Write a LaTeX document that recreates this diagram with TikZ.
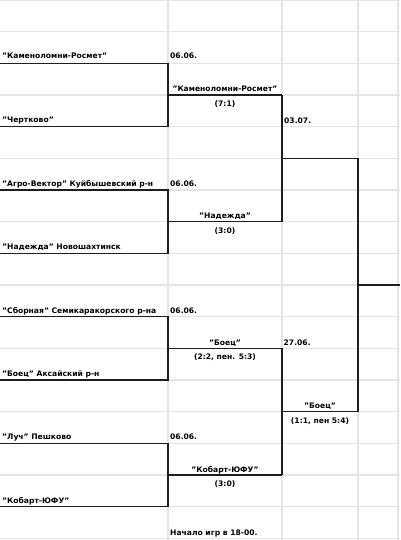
\documentclass[tikz,border=0pt]{standalone}
\usepackage{fontspec}
\setmainfont{DejaVu Sans}
\usepackage{tikz}
\usetikzlibrary{positioning,calc}
\definecolor{cellgray}{HTML}{E4E4E4}
\definecolor{ink}{HTML}{1E1E1E}

\begin{document}
\begin{tikzpicture}[x=1pt, y=-1pt]
    \tikzset{
        cellline/.style={draw=cellgray, line width=1.2pt},
        bracket/.style={draw=ink, line width=1.3pt},
        team/.style={anchor=base west, inner sep=0pt, font=\fontsize{7.6}{9}\selectfont\bfseries},
        date/.style={anchor=base west, inner sep=0pt, font=\fontsize{7.6}{9}\selectfont\bfseries},
        winner/.style={anchor=base, inner sep=0pt, font=\fontsize{7.6}{9}\selectfont\bfseries},
        score/.style={anchor=base, inner sep=0pt, font=\fontsize{7.6}{9}\selectfont\bfseries}
    }
    \useasboundingbox (0,0) rectangle (400,540);

    % Spreadsheet cells
    \foreach \i in {0,...,17}
        \path[cellline] (0,\i*31.67) -- (400,\i*31.67);
    \foreach \x in {168,282,358,398}
        \path[cellline] (\x,0) -- (\x,540);

    % Corner points of the bracket
    \foreach \k in {1,...,8}
        \coordinate (p\k) at (0,{\k*63.33});
    \foreach \k in {1,...,4} {
        \coordinate (q\k) at (168,{95+(\k-1)*126.67});
        \coordinate (r\k) at (282,{95+(\k-1)*126.67});
    }
    \coordinate (s1) at (282,158.33);
    \coordinate (s2) at (282,411.67);
    \coordinate (u1) at (358,158.33);
    \coordinate (u2) at (358,411.67);
    \coordinate (v) at (358,285);
    \coordinate (fin) at (400,285);

    % Round 1 (06.06.)
    \node[team] (t1) at (2,59) {"Каменоломни-Росмет"};
    \node[team] (t2) at (2,122.5) {"Чертково"};
    \node[team] (t3) at (2,186) {"Агро-Вектор" Куйбышевский р-н};
    \node[team] (t4) at (2,249.5) {"Надежда" Новошахтинск};
    \node[team] (t5) at (2,313) {"Сборная" Семикаракорского р-на};
    \node[team] (t6) at (2,376) {"Боец" Аксайский р-н};
    \node[team] (t7) at (2,439.5) {"Луч" Пешково};
    \node[team] (t8) at (2,503) {"Кобарт-ЮФУ"};

    \node[date] (d1) at (170,59) {06.06.};
    \node[date] (d2) at (170,186) {06.06.};
    \node[date] (d3) at (170,313) {06.06.};
    \node[date] (d4) at (170,439.5) {06.06.};

    \foreach \k [evaluate=\k as \j using int(2*\k-1), evaluate=\k as \m using int(2*\k)] in {1,...,4} {
        \path[bracket] (p\j) -| (q\k) |- (p\m);
        \path[bracket] (q\k) -- (r\k);
    }

    % Round 2
    \node[winner] (w1) at (225,92) {"Каменоломни-Росмет"};
    \node[score] (c1) at ($(w1.base)+(0,14.5)$) {(7:1)};
    \node[winner] (w2) at (225,218.5) {"Надежда"};
    \node[score] (c2) at ($(w2.base)+(0,14.5)$) {(3:0)};
    \node[winner] (w3) at (225,345) {"Боец"};
    \node[score] (c3) at ($(w3.base)+(0,14.5)$) {(2:2, пен. 5:3)};
    \node[winner] (w4) at (225,472) {"Кобарт-ЮФУ"};
    \node[score] (c4) at ($(w4.base)+(0,14.5)$) {(3:0)};

    \node[date] (d5) at (284,123.3) {03.07.};
    \node[date] (d6) at (283.5,345) {27.06.};

    \path[bracket] (r1) -- (r2);
    \path[bracket] (r3) -- (r4);
    \path[bracket] (s1) -- (u1);
    \path[bracket] (s2) -- (u2);

    % Round 3
    \node[winner] (w6) at (320,408.5) {"Боец"};
    \node[score] (c6) at ($(w6.base)+(0,14.5)$) {(1:1, пен 5:4)};

    \path[bracket] (u1) -- (u2);
    \path[bracket] (v) -- (fin);

    % Footnote
    \node[date] (note) at (170,535) {Начало игр в 18-00.};
\end{tikzpicture}
\end{document}
